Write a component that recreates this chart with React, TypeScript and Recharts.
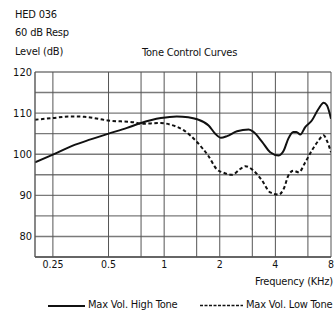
import React from "react";
import { LineChart, Line, XAxis, YAxis, ReferenceLine } from "recharts";

const highFreq = [0.2, 0.25, 0.32, 0.4, 0.5, 0.63, 0.75, 0.96, 1.17, 1.35, 1.51, 1.74, 1.89, 2.03, 2.19, 2.48, 2.87, 3.05, 3.39, 3.75, 4.17, 4.44, 4.7, 5.0, 5.2, 5.46, 5.8, 6.3, 6.84, 7.3, 7.6, 8];
const highVals = [98, 99.9, 102.1, 103.6, 105, 106.4, 107.6, 108.8, 109.2, 109.0, 108.5, 107, 105, 104, 104.4, 105.6, 106, 105.4, 103, 100.5, 99.7, 100.9, 103.8, 105.4, 105.4, 104.8, 106.6, 108.2, 111, 112.5, 111.9, 108.6];

const lowFreq = [0.2, 0.25, 0.31, 0.37, 0.5, 0.7, 0.75, 0.96, 1.08, 1.28, 1.51, 1.74, 1.93, 2.1, 2.33, 2.58, 2.75, 3.05, 3.39, 3.75, 4.17, 4.44, 4.7, 5.0, 5.35, 5.8, 6.3, 6.84, 7.3, 7.6, 8];
const lowVals = [108.4, 108.8, 109.2, 109.1, 108.2, 107.7, 107.4, 107.6, 107.2, 105.8, 102.9, 99.5, 96.3, 95.5, 95, 96.4, 97.1, 96, 93.6, 90.7, 90.2, 91.6, 94.8, 96, 95.6, 98, 100.9, 103.3, 104.6, 103.3, 100.5];

const xTicks = [0.25, 0.5, 1, 2, 4, 8];
const xGrid = [0.25, 0.5, 0.75, 1, 1.5, 2, 3, 4, 6, 8];
const yTicks = [80, 90, 100, 110, 120];
const yGrid = [75, 80, 85, 90, 95, 100, 105, 110, 115, 120];

const highData = highFreq.map((f, i) => ({ f, v: highVals[i] }));
const lowData = lowFreq.map((f, i) => ({ f, v: lowVals[i] }));

const FONT = "'DejaVu Sans Condensed', 'Liberation Sans Narrow', 'Open Sans', sans-serif";

export default function App() {
  const txt: React.CSSProperties = { position: "absolute", fontFamily: FONT, fontSize: 11, letterSpacing: -0.2, color: "#111", whiteSpace: "nowrap", lineHeight: "14px" };
  return (
    <div style={{ position: "absolute", left: 0, top: 0, width: 335, height: 315, background: "#fff" }}>
      <LineChart width={335} height={315} margin={{ top: 72, right: 4, bottom: 0, left: 0 }}>
        {yGrid.map((y) => (
          <ReferenceLine key={"h" + y} y={y} stroke="#7a7a7a" strokeWidth={1.4} ifOverflow="extendDomain" />
        ))}
        {xGrid.map((x) => (
          <ReferenceLine key={"v" + x} x={x} stroke="#555" strokeWidth={1} />
        ))}
        <XAxis
          dataKey="f"
          type="number"
          scale="log"
          domain={[0.2, 8]}
          ticks={xTicks}
          interval={0}
          allowDataOverflow
          height={58}
          tickSize={0}
          tickMargin={4}
          axisLine={{ stroke: "#555", strokeWidth: 1.4 }}
          tick={{ fill: "#111", fontSize: 10.5, fontFamily: FONT }}
        />
        <YAxis
          type="number"
          domain={[75, 120]}
          ticks={yTicks}
          interval={0}
          width={35}
          tickSize={0}
          tickMargin={3}
          axisLine={{ stroke: "#555", strokeWidth: 1.4 }}
          tick={{ fill: "#111", fontSize: 11, fontFamily: FONT }}
        />
        <Line data={highData} dataKey="v" type="monotone" stroke="#111" strokeWidth={2} dot={false} isAnimationActive={false} />
        <Line data={lowData} dataKey="v" type="monotone" stroke="#111" strokeWidth={2} strokeDasharray="3.5 2.5" dot={false} isAnimationActive={false} />
      </LineChart>
      <div style={{ ...txt, left: 15, top: 8 }}>HED 036</div>
      <div style={{ ...txt, left: 15, top: 26 }}>60 dB Resp</div>
      <div style={{ ...txt, left: 15, top: 45 }}>Level (dB)</div>
      <div style={{ ...txt, left: 142, top: 46 }}>Tone Control Curves</div>
      <div style={{ ...txt, right: 2, top: 275 }}>Frequency (KHz)</div>
      <div style={{ position: "absolute", left: 48, top: 305, width: 37, borderTop: "2px solid #111" }} />
      <div style={{ ...txt, left: 88, top: 298 }}>Max Vol. High Tone</div>
      <svg style={{ position: "absolute", left: 200, top: 304 }} width={43} height={3}>
        <line x1={0} y1={1.5} x2={43} y2={1.5} stroke="#111" strokeWidth={1.5} strokeDasharray="3 1.5" />
      </svg>
      <div style={{ ...txt, left: 246, top: 298 }}>Max Vol. Low Tone</div>
    </div>
  );
}
